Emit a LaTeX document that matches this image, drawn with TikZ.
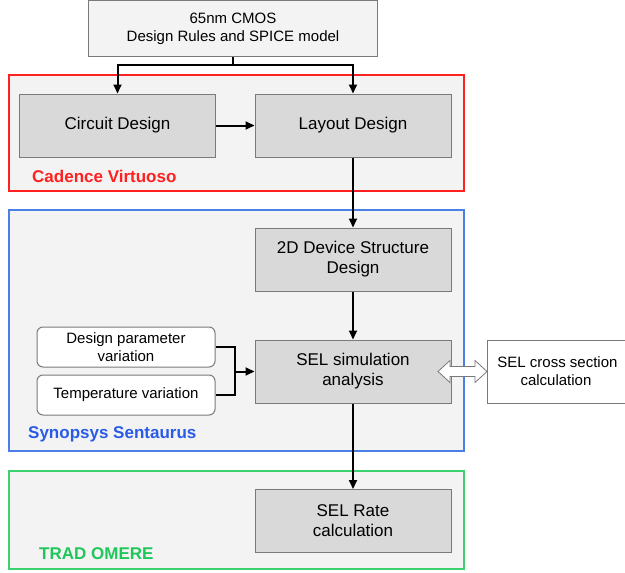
\documentclass[tikz,border=0pt]{standalone}
\usepackage{fontspec}
\setmainfont{Liberation Sans}
\usetikzlibrary{positioning,arrows.meta}
\definecolor{panelfill}{HTML}{F3F3F3}
\definecolor{stepfill}{HTML}{D9D9D9}
\definecolor{stepline}{HTML}{7A7A7A}
\definecolor{cadred}{HTML}{FF2020}
\definecolor{synblue}{HTML}{4A7FE8}
\definecolor{synbluetext}{HTML}{2A5BE8}
\definecolor{tradgreen}{HTML}{3AD16E}
\definecolor{tradgreentext}{HTML}{1FC65A}
\tikzset{
  panel/.style={fill=panelfill, line width=1.4pt},
  stepbox/.style={draw=stepline, fill=stepfill, line width=1pt, minimum width=196pt, minimum height=63pt, align=center, font=\fontsize{17}{20}\selectfont, inner sep=0pt},
  inputbox/.style={draw=stepline, fill=white, rounded corners=6pt, line width=1pt, minimum width=178pt, minimum height=40pt, align=center, font=\fontsize{15}{18}\selectfont, inner sep=0pt},
  toolname/.style={anchor=west, font=\bfseries\fontsize{17}{20}\selectfont, inner sep=0pt},
  flow/.style={line width=2pt, -{Triangle[length=9pt,width=8pt]}},
  wire/.style={line width=2pt}
}
\begin{document}
\begin{tikzpicture}[x=1pt,y=-1pt]
\useasboundingbox (0,0) rectangle (625,573);

\draw[panel, draw=cadred] (9,75) rectangle (464,191);
\draw[panel, draw=synblue] (9,210) rectangle (464,451);
\draw[panel, draw=tradgreen] (9,471) rectangle (464,569);

\node[stepbox, fill=panelfill, minimum width=289pt, minimum height=56pt, font=\fontsize{15}{18}\selectfont] (pdk) at (233,28.5) {65nm CMOS\\Design Rules and SPICE model};

\node[stepbox] (circuit) at (117.5,125.5) {Circuit Design};
\node[stepbox] (layout) at (353,125.5) {Layout Design};
\node[toolname, text=cadred] (cadence) at (32,176) {Cadence Virtuoso};

\node[stepbox] (device) at (353,259.5) {2D Device Structure\\Design};
\node[stepbox] (selsim) at (353,371.5) {SEL simulation\\analysis};
\node[inputbox] (param) at (126,347) {Design parameter\\variation};
\node[inputbox] (temp) at (126,395) {Temperature variation};
\node[toolname, text=synbluetext] (sentaurus) at (28,434) {Synopsys Sentaurus};

\node[stepbox, fill=white, minimum width=140pt, font=\fontsize{15}{18}\selectfont, anchor=west] (xsec) at (487,371.5) {SEL cross section\\calculation\hspace*{3pt}};
\draw[draw=stepline, fill=white, line width=0.8pt] (438,371.5) -- (450,360.5) -- (450,366.5) -- (475,366.5) -- (475,360.5) -- (487,371.5) -- (475,382.5) -- (475,376.5) -- (450,376.5) -- (450,382.5) -- cycle;

\node[stepbox] (rate) at (353,521) {SEL Rate\\calculation};
\node[toolname, text=tradgreentext] (omere) at (39,554) {TRAD OMERE};

\coordinate (split) at (233,65);
\coordinate (merge) at (235,371.5);

\draw[wire] (pdk.south) -- (split);
\draw[flow] (split) -| (circuit.north);
\draw[flow] (split) -| (layout.north);
\draw[flow] (circuit) -- (layout);
\draw[flow] (layout) -- (device);
\draw[flow] (device) -- (selsim);
\draw[wire] (param.east) -| (merge);
\draw[wire] (temp.east) -| (merge);
\draw[flow] (merge) -- (selsim.west);
\draw[flow] (selsim) -- (rate);

\end{tikzpicture}
\end{document}
